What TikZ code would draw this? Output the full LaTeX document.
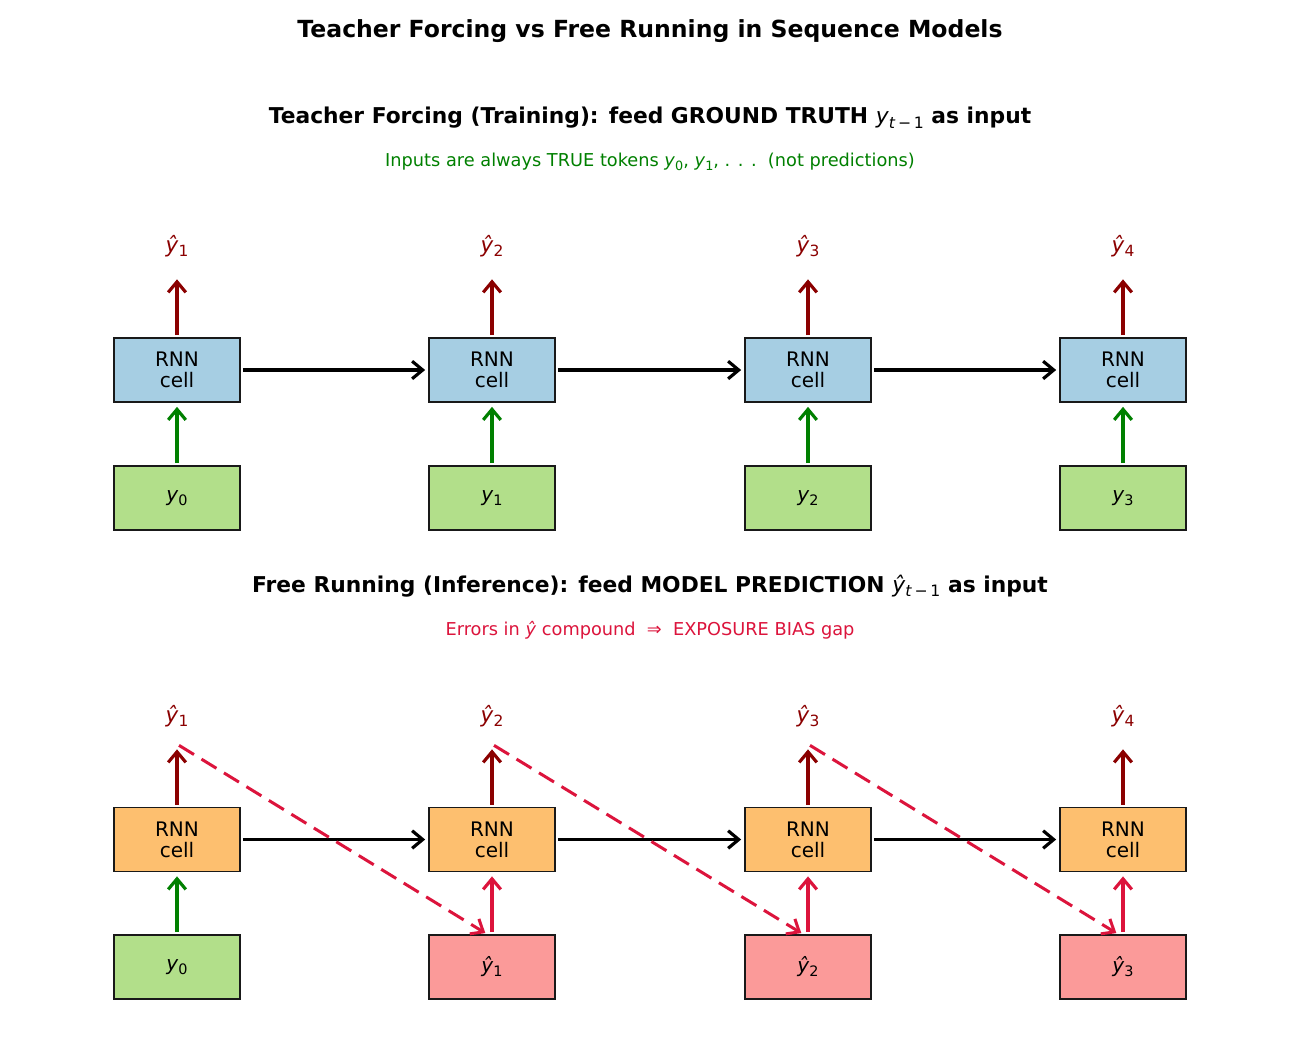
\documentclass[tikz,border=0pt]{standalone}
\usepackage{fontspec}
\setmainfont{DejaVu Sans}
\usepackage{graphicx}
\usetikzlibrary{arrows.meta}
\definecolor{cellblue}{HTML}{A6CEE3}
\definecolor{cellorange}{HTML}{FDBF6F}
\definecolor{ingreen}{HTML}{B2DF8A}
\definecolor{inpink}{HTML}{FB9A99}
\definecolor{outred}{HTML}{8B0000}
\definecolor{tfgreen}{HTML}{008000}
\definecolor{crim}{HTML}{DC143C}
\newcommand\sbs[1]{\raisebox{-0.35ex}{\scalebox{0.72}{#1}}}
\newcommand\yv[1]{\textit{y}\sbs{#1}}
\newcommand\yh[1]{\textit{ŷ}\sbs{#1}}
\begin{document}
\begin{tikzpicture}[x=0.02cm,y=-0.02cm,
  cell/.style={draw=black!90, line width=1pt, minimum width=2.52cm, minimum height=1.28cm,
    inner sep=0pt, align=center, font=\fontsize{11.4}{12}\selectfont},
  outl/.style={text=outred, minimum height=1.32cm, inner sep=0pt, font=\fontsize{12.2}{14}\selectfont},
  subt/.style={font=\bfseries\fontsize{12.4}{14}\selectfont},
  note/.style={font=\fontsize{10.1}{12}\selectfont},
  arr/.style={-{Straight Barb[length=6pt,width=10pt]}, line width=1.8pt},
  harr/.style={arr, black, shorten <=0.04cm, shorten >=0.06cm},
  uparr/.style={arr, shorten <=0.04cm},
  inarr/.style={arr, shorten <=0.04cm, shorten >=0.08cm},
  dasharr/.style={arr, crim, dash pattern=on 10pt off 5pt, line width=1.7pt, shorten >=0.04cm}
]
\fill[white] (0,0) rectangle (1300,1040);
\useasboundingbox (0,0) rectangle (1300,1040);

\node[font=\bfseries\fontsize{13.4}{16}\selectfont] (title) at (650,31) {Teacher Forcing vs Free Running in Sequence Models};

% ---- Teacher forcing ----
\node[subt] (h1) at (650,118) {Teacher Forcing (Training): feed GROUND TRUTH \textmd{\yv{\textit{t}\,−\,1}} as input};
\node[note, text=tfgreen] (n1) at (650,162) {Inputs are always TRUE tokens \yv{0}, \yv{1}, . . .\ \ (not predictions)};

\foreach \i/\x in {1/177,2/492,3/808,4/1123} {
  \pgfmathtruncatemacro\j{\i-1}
  \node[cell, fill=cellblue] (c\i) at (\x,370) {RNN\\cell};
  \node[cell, fill=ingreen] (i\i) at (\x,498) {\yv{\j}};
  \node[outl] (o\i) at (\x,246) {\yh{\i}};
  \draw[uparr, outred] (c\i.north) -- (o\i.south);
  \draw[inarr, tfgreen] (i\i.north) -- (c\i.south);
}
\foreach \a/\b in {1/2,2/3,3/4} \draw[harr] (c\a.east) -- (c\b.west);

% ---- Free running ----
\node[subt] (h2) at (650,586) {Free Running (Inference): feed MODEL PREDICTION \textmd{\yh{\textit{t}\,−\,1}} as input};
\node[note, text=crim] (n2) at (650,630) {Errors in \textit{ŷ} compound \ ⇒ \ EXPOSURE BIAS gap};

\foreach \i/\x in {1/177,2/492,3/808,4/1123} {
  \node[cell, fill=cellorange] (d\i) at (\x,839.5) {RNN\\cell};
  \node[outl] (p\i) at (\x,716) {\yh{\i}};
  \draw[uparr, outred] (d\i.north) -- (p\i.south);
}
\node[cell, fill=ingreen] (j1) at (177,967) {\yv{0}};
\node[cell, fill=inpink] (j2) at (492,967) {\yh{1}};
\node[cell, fill=inpink] (j3) at (808,967) {\yh{2}};
\node[cell, fill=inpink] (j4) at (1123,967) {\yh{3}};
\draw[inarr, tfgreen] (j1.north) -- (d1.south);
\foreach \i in {2,3,4} \draw[inarr, crim] (j\i.north) -- (d\i.south);
\foreach \a/\b in {1/2,2/3,3/4} \draw[harr] (d\a.east) -- (d\b.west);
\foreach \a/\b in {1/2,2/3,3/4} \draw[dasharr] ([xshift=0.04cm,yshift=0.08cm]p\a.south) -- ([xshift=-0.1cm]j\b.north);
\end{tikzpicture}
\end{document}
